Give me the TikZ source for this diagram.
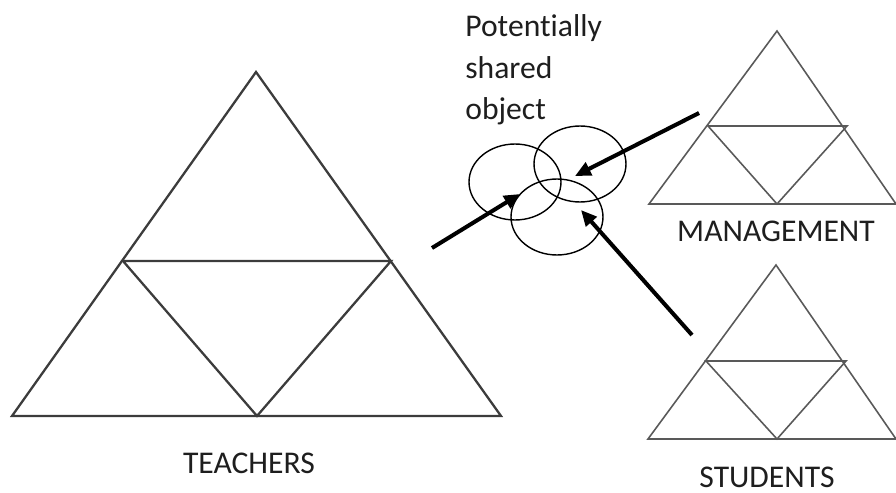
\documentclass[tikz,border=0pt]{standalone}
\usepackage{fontspec}
\setmainfont[Ligatures=NoCommon]{Carlito}
\usepackage{xcolor}
\definecolor{trigray}{RGB}{60,60,60}
\definecolor{lblgray}{RGB}{30,30,30}
\usetikzlibrary{arrows.meta, positioning, shapes.geometric}

\tikzset{
  bigtri/.style={trigray, line width=1.3pt, line join=miter},
  smalltri/.style={trigray!85, line width=0.9pt, line join=miter},
  objcircle/.style={ellipse, draw=black, line width=0.8pt, minimum width=1.84cm, minimum height=1.52cm, inner sep=0pt},
  groupname/.style={font=\fontsize{18}{24}\selectfont, lblgray, inner sep=0pt},
  pointer/.style={-{Triangle[length=9pt, width=8pt]}, line width=2.3pt, black}
}

\begin{document}
\begin{tikzpicture}[x=0.02cm, y=-0.02cm]
  \useasboundingbox (0,0) rectangle (896,493);
  % Teachers triangle
  \draw[bigtri] (256,72) -- (12,416) -- (501,416) -- cycle;
  \draw[bigtri] (123,261) -- (391,261) -- (257,416) -- cycle;
  \node[groupname, anchor=base] (teachers) at (249,473) {TEACHERS};
  % Management triangle
  \draw[smalltri] (777,31) -- (649,204) -- (896,204) -- cycle;
  \draw[smalltri] (708,126) -- (847,126) -- (777,204) -- cycle;
  \node[groupname, anchor=base] (management) at (776,242) {MANAGEMENT};
  % Students triangle
  \draw[smalltri] (776,265) -- (648,439) -- (896,439) -- cycle;
  \draw[smalltri] (706,361) -- (846,361) -- (777,439) -- cycle;
  \node[groupname, anchor=base] (students) at (767,487) {STUDENTS};
  % Potentially shared object
  \node[groupname, anchor=base west, align=left, font=\fontsize{18}{23.8}\selectfont] (sharedlbl) at (465,120) {Potentially\\shared\\object};
  \node[objcircle] (objA) at (515,182) {};
  \node[objcircle] (objB) at (580,164) {};
  \node[objcircle] (objC) at (557,217) {};
  % Arrows towards the shared object
  \coordinate (teachTail) at (432,248);
  \coordinate (teachTip) at (520,194);
  \coordinate (manTail) at (699,113);
  \coordinate (manTip) at (575,176);
  \coordinate (studTail) at (692,335);
  \coordinate (studTip) at (581,210);
  \draw[pointer] (teachTail) -- (teachTip);
  \draw[pointer] (manTail) -- (manTip);
  \draw[pointer] (studTail) -- (studTip);
\end{tikzpicture}
\end{document}
